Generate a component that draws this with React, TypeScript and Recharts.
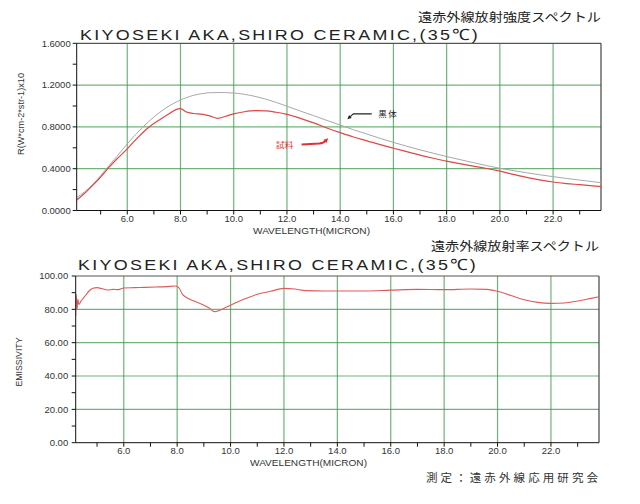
import React from 'react';
import { LineChart, Line, XAxis, YAxis, ReferenceLine, ReferenceDot } from 'recharts';

// ---- top chart: radiant intensity spectrum ----
const topWave = [4.1, 4.4, 4.7, 5.0, 5.3, 5.6, 6.0, 6.4, 6.8, 7.2, 7.6, 7.9, 8.0, 8.2, 8.5, 8.8, 9.1, 9.4, 9.7, 10.0, 10.4, 10.8, 11.2, 11.6, 12.0, 12.5, 13.0, 13.5, 14.0, 14.5, 15.0, 15.5, 16.0, 16.5, 17.0, 17.5, 18.0, 18.5, 19.0, 19.5, 20.0, 20.5, 21.0, 21.5, 22.0, 22.5, 23.0, 23.8];
const blackBody = [0.125, 0.18, 0.25, 0.335, 0.425, 0.515, 0.638, 0.75, 0.85, 0.935, 1.005, 1.045, 1.058, 1.078, 1.103, 1.118, 1.127, 1.129, 1.128, 1.124, 1.112, 1.092, 1.066, 1.034, 0.998, 0.952, 0.908, 0.862, 0.818, 0.773, 0.732, 0.69, 0.652, 0.615, 0.58, 0.548, 0.516, 0.487, 0.458, 0.43, 0.404, 0.382, 0.361, 0.342, 0.324, 0.307, 0.291, 0.266];
const sample = [0.1, 0.165, 0.24, 0.32, 0.41, 0.49, 0.59, 0.7, 0.795, 0.865, 0.93, 0.972, 0.975, 0.945, 0.928, 0.922, 0.905, 0.882, 0.902, 0.925, 0.945, 0.955, 0.953, 0.94, 0.92, 0.882, 0.838, 0.79, 0.745, 0.703, 0.667, 0.63, 0.596, 0.563, 0.53, 0.5, 0.472, 0.448, 0.424, 0.402, 0.376, 0.346, 0.317, 0.293, 0.273, 0.258, 0.247, 0.228];
const topYTicks = [0, 0.2, 0.4, 0.6, 0.8, 1.0, 1.2, 1.4, 1.6];
const topYGrid = [0.4, 0.8, 1.2];

// ---- bottom chart: emissivity spectrum ----
const emWave = [4.2, 4.22, 4.25, 4.28, 4.32, 4.4, 4.5, 4.6, 4.7, 4.85, 5.0, 5.2, 5.4, 5.6, 5.8, 6.0, 6.4, 6.8, 7.2, 7.6, 7.9, 8.05, 8.2, 8.4, 8.7, 9.0, 9.2, 9.4, 9.6, 10.0, 10.5, 11.0, 11.5, 12.0, 12.4, 12.8, 13.5, 14.0, 15.0, 16.0, 17.0, 18.0, 19.0, 19.6, 20.0, 20.5, 21.0, 21.5, 22.0, 22.5, 23.0, 23.5, 23.8];
const emissivity = [76, 89, 80, 86, 83, 85, 87, 89, 91, 92.6, 93, 92.3, 91.6, 92, 91.8, 92.8, 93, 93.2, 93.4, 93.6, 94, 93.2, 89, 86.6, 84.5, 82.5, 80.8, 78.6, 79.5, 82.5, 86, 89, 90.8, 92.6, 92.2, 91.2, 91, 91, 91, 91.5, 92, 91.8, 92.2, 92, 90.8, 88.3, 85.8, 84.2, 83.6, 83.8, 85, 86.6, 87.6];
const emYTicks = [0, 10, 20, 30, 40, 50, 60, 70, 80, 90, 100];
const emYGrid = [20, 40, 60, 80];

// ---- shared ----
const xTicks = [5, 6, 7, 8, 9, 10, 11, 12, 13, 14, 15, 16, 17, 18, 19, 20, 21, 22, 23];
const xGrid = [6, 8, 10, 12, 14, 16, 18, 20, 22];

const topTitle = 'KIYOSEKI AKA,SHIRO CERAMIC,(35\u2103)';
const topSubtitle = '遠赤外線放射強度スペクトル';
const bottomSubtitle = '遠赤外線放射率スペクトル';
const topYLabel = 'R(W*cm-2*str-1)x10';
const bottomYLabel = 'EMISSIVITY';
const xLabel = 'WAVELENGTH(MICRON)';
const footer = '測定：遠赤外線応用研究会';
const bbNote = '黒体';
const sampleNote = '試料';

const topData = topWave.map((w, i) => ({ w, bb: blackBody[i], s: sample[i] }));
const emData = emWave.map((w, i) => ({ w, e: emissivity[i] }));

const FONT = 'Liberation Sans, Arial, sans-serif';
const CJK = 'Noto Sans CJK JP, sans-serif';
const GRID = '#3f9a4c';
const tickStyle = { fontSize: 9.5, fill: '#333', fontFamily: FONT };
const xTickStyle = { fontSize: 9.5, fill: '#333', fontFamily: FONT };

const BlackBodyNote = (props: any) => {
  const { cx, cy } = props;
  if (cx == null || cy == null) return null;
  return (
    <g>
      <path d={`M${cx + 24.4},${cy - 5.3} L${cx + 6},${cy - 5.3} L${cx + 2},${cy - 1.8}`} stroke="#222" strokeWidth={1.1} fill="none" />
      <polygon points={`${cx},${cy} ${cx + 4.3},${cy - 1.2} ${cx + 1.7},${cy - 4.2}`} fill="#222" />
      <text x={cx + 31} y={cy - 2} fontSize={8.5} fontFamily={CJK} fill="#222" textLength={18.5} lengthAdjust="spacing">{bbNote}</text>
    </g>
  );
};

const SampleNote = (props: any) => {
  const { cx, cy } = props;
  if (cx == null || cy == null) return null;
  return (
    <g>
      <path d={`M${cx - 26.6},${cy + 6.2} L${cx - 9},${cy + 5.4} Q${cx - 4.5},${cy + 5} ${cx - 2.5},${cy + 2.5}`} stroke="#e03030" strokeWidth={2} fill="none" />
      <polygon points={`${cx},${cy} ${cx - 1.6},${cy + 4.8} ${cx - 4.8},${cy + 1.6}`} fill="#e03030" />
      <text x={cx - 52.3} y={cy + 9.6} fontSize={8.5} fontFamily={CJK} fill="#e03030" textLength={17.3} lengthAdjust="spacing">{sampleNote}</text>
    </g>
  );
};

export default function App() {
  return (
    <div style={{ position: 'absolute', left: 0, top: 0, width: 640, height: 504, background: '#fff', overflow: 'hidden' }}>
      <div style={{ position: 'absolute', left: 0, top: 0 }}>
        <LineChart width={640} height={240} data={topData} margin={{ top: 43.3, right: 39, bottom: 0, left: 0 }}>
          <XAxis
            dataKey="w"
            type="number"
            domain={[4.1, 23.8]}
            allowDataOverflow
            ticks={xTicks}
            interval={0}
            tickFormatter={(v: number) => (v % 2 === 0 ? v.toFixed(1) : '')}
            height={29.5}
            tickSize={4}
            tickMargin={1}
            stroke="#111"
            tick={xTickStyle}
          />
          <YAxis
            type="number"
            domain={[0, 1.6]}
            ticks={topYTicks}
            interval={0}
            tickFormatter={(v: number) => (Math.round(v * 10) % 4 === 0 ? v.toFixed(4) : '')}
            width={76.7}
            tickSize={4}
            tickMargin={2}
            stroke="#111"
            tick={tickStyle}
          />
          {xGrid.map((x) => (
            <ReferenceLine key={'vx' + x} x={x} stroke={GRID} strokeOpacity={0.75} strokeWidth={1.2} />
          ))}
          {topYGrid.map((y) => (
            <ReferenceLine key={'hy' + y} y={y} stroke={GRID} strokeOpacity={0.75} strokeWidth={1.2} />
          ))}
          <ReferenceLine y={1.6} stroke="#555" strokeWidth={1.2} />
          <ReferenceLine x={23.8} stroke="#444" strokeWidth={1.2} />
          <Line type="monotone" dataKey="bb" stroke="#a8a8a8" strokeWidth={1} dot={false} isAnimationActive={false} />
          <Line type="monotone" dataKey="s" stroke="#dd4848" strokeWidth={1.2} dot={false} isAnimationActive={false} />
          <ReferenceDot x={14.27} y={0.874} r={0} shape={BlackBodyNote} />
          <ReferenceDot x={13.55} y={0.692} r={0} shape={SampleNote} />
        </LineChart>
      </div>
      <div style={{ position: 'absolute', left: 0, top: 230 }}>
        <LineChart width={640} height={243} data={emData} margin={{ top: 46, right: 41, bottom: 0, left: 0 }}>
          <XAxis
            dataKey="w"
            type="number"
            domain={[4.2, 23.8]}
            allowDataOverflow
            ticks={xTicks}
            interval={0}
            tickFormatter={(v: number) => (v % 2 === 0 ? v.toFixed(1) : '')}
            height={30.3}
            tickSize={4}
            tickMargin={1}
            stroke="#111"
            tick={xTickStyle}
          />
          <YAxis
            type="number"
            domain={[0, 100]}
            ticks={emYTicks}
            interval={0}
            tickFormatter={(v: number) => (v % 20 === 0 ? v.toFixed(2) : '')}
            width={75.7}
            tickSize={4}
            tickMargin={3.5}
            stroke="#111"
            tick={tickStyle}
          />
          {xGrid.map((x) => (
            <ReferenceLine key={'bx' + x} x={x} stroke={GRID} strokeOpacity={0.75} strokeWidth={1.2} />
          ))}
          {emYGrid.map((y) => (
            <ReferenceLine key={'by' + y} y={y} stroke={GRID} strokeOpacity={0.75} strokeWidth={1.2} />
          ))}
          <ReferenceLine y={100} stroke="#555" strokeWidth={1.2} />
          <ReferenceLine x={23.8} stroke="#444" strokeWidth={1.2} />
          <Line type="monotone" dataKey="e" stroke="#df5a5a" strokeWidth={1.1} dot={false} isAnimationActive={false} />
        </LineChart>
      </div>
      <svg width={640} height={504} style={{ position: 'absolute', left: 0, top: 0, pointerEvents: 'none' }}>
        <text x={418} y={22} fontSize={12.5} fontFamily={CJK} fill="#222" textLength={183} lengthAdjust="spacingAndGlyphs">{topSubtitle}</text>
        <text x={80} y={40} fontSize={15.5} letterSpacing={2} fontFamily={FONT} fill="#222" textLength={400} lengthAdjust="spacingAndGlyphs">{topTitle}</text>
        <text transform="translate(24,114) rotate(-90)" textAnchor="middle" fontSize={8.5} fontFamily={FONT} fill="#333" textLength={82} lengthAdjust="spacingAndGlyphs">{topYLabel}</text>
        <text x={311.5} y={233.5} textAnchor="middle" fontSize={8.5} fontFamily={FONT} fill="#333" textLength={117} lengthAdjust="spacingAndGlyphs">{xLabel}</text>

        <text x={431} y={251} fontSize={12.5} fontFamily={CJK} fill="#222" textLength={168} lengthAdjust="spacingAndGlyphs">{bottomSubtitle}</text>
        <text x={78} y={270} fontSize={15.5} letterSpacing={2} fontFamily={FONT} fill="#222" textLength={400} lengthAdjust="spacingAndGlyphs">{topTitle}</text>
        <text transform="translate(22,362) rotate(-90)" textAnchor="middle" fontSize={8.5} fontFamily={FONT} fill="#333" textLength={49} lengthAdjust="spacingAndGlyphs">{bottomYLabel}</text>
        <text x={308.5} y={465.5} textAnchor="middle" fontSize={8.5} fontFamily={FONT} fill="#333" textLength={117} lengthAdjust="spacingAndGlyphs">{xLabel}</text>

        <text x={426} y={481.5} fontSize={11.5} fontFamily={CJK} fill="#333" textLength={172} lengthAdjust="spacing">{footer}</text>
      </svg>
    </div>
  );
}
